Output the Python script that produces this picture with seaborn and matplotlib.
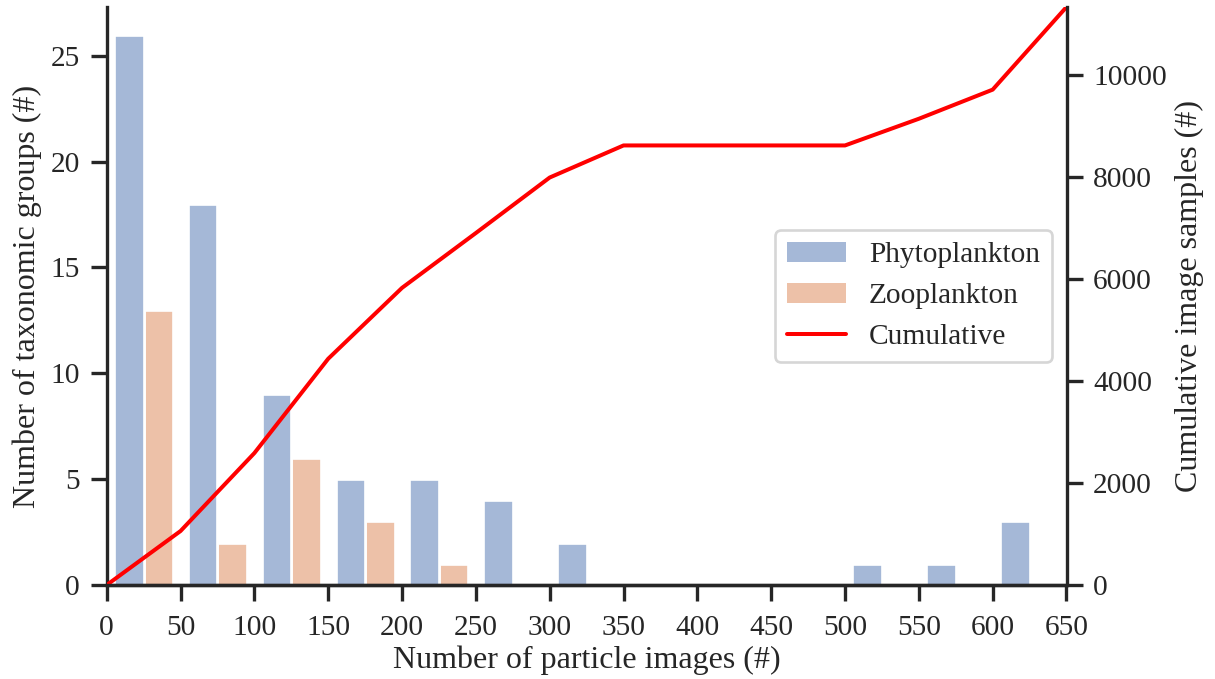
import numpy as np
import pandas as pd
import matplotlib
matplotlib.use("Agg")
import matplotlib.pyplot as plt
from matplotlib.patches import Patch
from matplotlib.lines import Line2D
from matplotlib.colors import to_rgba
import seaborn as sns

# Histogram bins (number of particle images per taxonomic group)
bin_edges = [0, 50, 100, 150, 200, 250, 300, 350, 400, 450, 500, 550, 600, 650]
bin_centers = [25, 75, 125, 175, 225, 275, 325, 375, 425, 475, 525, 575, 625]

# Number of taxonomic groups falling in each bin
phyto_counts = [26, 18, 9, 5, 5, 4, 2, 0, 0, 0, 1, 1, 3]
zoo_counts = [13, 2, 6, 3, 1, 0, 0, 0, 0, 0, 0, 0, 0]

# Cumulative number of image samples at each bin edge
cumulative_x = [0, 50, 100, 150, 200, 250, 300, 350, 400, 450, 500, 550, 600, 650]
cumulative_images = [0, 1058, 2586, 4435, 5825, 6900, 7988, 8617, 8617, 8617,
                     8617, 9140, 9711, 11331]

groups = ["Phytoplankton", "Zooplankton"]

sns.set_theme(style="ticks", context="poster")
plt.rcParams["font.family"] = ["Liberation Serif", "DejaVu Serif"]

palette = sns.color_palette("deep", 2)

df = pd.DataFrame({
    "size": bin_centers + bin_centers,
    "count": phyto_counts + zoo_counts,
    "group": [groups[0]] * len(bin_centers) + [groups[1]] * len(bin_centers),
})

dpi = 96
fig = plt.figure(figsize=(1215 / dpi, 679 / dpi), dpi=dpi)
ax = fig.add_axes([106.7 / 1215, 1 - 585 / 679, (1066.5 - 106.7) / 1215, (585 - 7) / 679])

sns.histplot(
    data=df, x="size", weights="count", hue="group", hue_order=groups,
    bins=bin_edges, multiple="dodge", shrink=0.8, alpha=0.5,
    palette=palette, ax=ax, legend=False,
)
ax.set_xlim(bin_edges[0], bin_edges[-1])
ax.set_xticks(bin_edges)
ax.set_yticks([0, 5, 10, 15, 20, 25])
ax.set_xlabel("Number of particle images (#)")
ax.set_ylabel("Number of taxonomic groups (#)")
ax.tick_params(axis="x", pad=10.5)
ax.tick_params(axis="y", pad=8)
ax.xaxis.set_label_coords(0.5, -0.104)
ax.yaxis.set_label_coords(-0.067, 0.5)

ax2 = ax.twinx()
sns.lineplot(x=cumulative_x, y=cumulative_images, ax=ax2, color="red", linewidth=3)
ax2.set_ylim(0, max(cumulative_images))
ax2.set_yticks([0, 2000, 4000, 6000, 8000, 10000])
ax2.set_ylabel("Cumulative image samples (#)")
ax2.tick_params(axis="y", pad=8)
ax2.yaxis.set_label_coords(1.113, 0.5)

for a in (ax, ax2):
    a.spines["top"].set_visible(False)
ax.spines["right"].set_visible(False)
ax2.spines["left"].set_visible(False)

handles = [
    Patch(facecolor=to_rgba(palette[0], 0.5), edgecolor="none", label=groups[0]),
    Patch(facecolor=to_rgba(palette[1], 0.5), edgecolor="none", label=groups[1]),
    Line2D([0], [0], color="red", linewidth=3, label="Cumulative"),
]
ax2.legend(handles=handles, loc="center right")

fig.savefig("out.png", dpi=dpi)
